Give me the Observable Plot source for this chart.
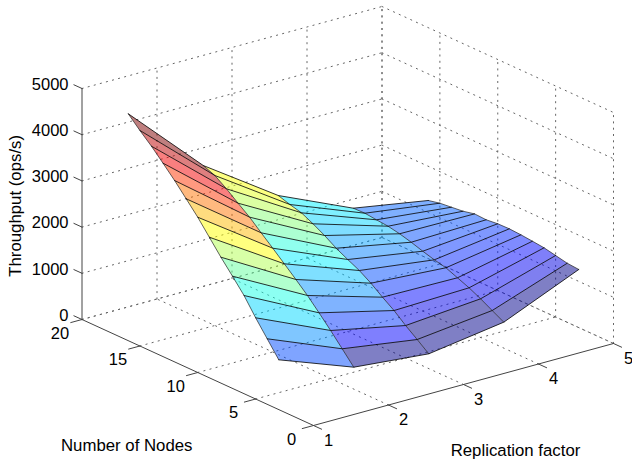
<!DOCTYPE html>
<html>
<head>
<meta charset="utf-8">
<script src="https://cdn.jsdelivr.net/npm/d3@7"></script>
<script src="https://cdn.jsdelivr.net/npm/@observablehq/plot@0.6"></script>
<style>html,body{margin:0;padding:0;background:#fff}svg{display:block}</style>
</head>
<body>
<div id="chart"></div>
<script>
// Data: throughput (ops/s) by number of nodes, for each replication factor
const replication = [1, 2, 3, 4, 5];
const nodes = [3, 4, 5, 6, 7, 8, 9, 10, 11, 12, 13, 14, 15, 16];
const throughputR1 = [1078, 1418, 1758, 2125, 2429, 2725, 3043, 3361, 3645, 3926, 4186, 4439, 4665, 4911];
const throughputR2 = [474, 758, 1039, 1307, 1567, 1799, 2024, 2247, 2465, 2689, 2877, 3074, 3247, 3348];
const throughputR3 = [320, 515, 703, 913, 1087, 1275, 1435, 1558, 1688, 1848, 1987, 2110, 2175, 2255];
const throughputR4 = [561, 699, 838, 961, 1063, 1165, 1223, 1294, 1374, 1442, 1491, 1515, 1543, 1537];
const throughputR5 = [1258, 1279, 1331, 1383, 1411, 1435, 1450, 1444, 1416, 1429, 1372, 1344, 1316, 1260];
const surface = [throughputR1, throughputR2, throughputR3, throughputR4, throughputR5];

const rTicks = [1, 2, 3, 4, 5];
const nTicks = [0, 5, 10, 15, 20];
const zTicks = [0, 1000, 2000, 3000, 4000, 5000];

// Colour stops of the jet-like colormap, as read from the faces
const colorStops = [0, 770, 830, 1050, 2327, 2844, 3361, 3878, 4395, 4911];
const colorValues = ["rgb(0,0,140)", "rgb(0,0,140)", "rgb(0,0,225)", "rgb(0,0,255)", "rgb(0,255,255)", "rgb(128,255,128)",
                     "rgb(255,255,0)", "rgb(255,128,0)", "rgb(255,0,0)", "rgb(128,0,0)"];

// Parallel (orthographic) view of the 3-D box
const view = {ox: 313, oy: 425, rx: 75, ry: -20.5, nx: -11.575, ny: -5.3, zy: -0.0462};
const px = (r, n) => view.ox + (r - 1) * view.rx + n * view.nx;
const py = (r, n, z) => view.oy + (r - 1) * view.ry + n * view.ny + z * view.zy;
const pt = (r, n, z, extra = {}) => ({x: px(r, n), y: py(r, n, z), ...extra});

// Grid lines on the floor and the two back walls
const grid = [];
const seg = (a, b) => { const id = grid.length; grid.push(pt(...a, {id})); grid.push(pt(...b, {id})); };
for (const z of zTicks) { seg([1, 20, z], [5, 20, z]); seg([5, 20, z], [5, 0, z]); }
for (const r of rTicks) { if (r > 1) seg([r, 20, 0], [r, 20, 5000]); if (r > 1) seg([r, 0, 0], [r, 20, 0]); }
for (const n of nTicks) { seg([5, n, 0], [5, n, 5000]); if (n > 0) seg([1, n, 0], [5, n, 0]); }

// Surface faces
const cells = [];
for (let i = 0; i < replication.length - 1; i++) {
  for (let j = nodes.length - 2; j >= 0; j--) {
    const id = `${i}-${j}`, value = surface[i][j + 1];
    cells.push(
      pt(replication[i], nodes[j], surface[i][j], {id, value}),
      pt(replication[i + 1], nodes[j], surface[i + 1][j], {id, value}),
      pt(replication[i + 1], nodes[j + 1], surface[i + 1][j + 1], {id, value}),
      pt(replication[i], nodes[j + 1], surface[i][j + 1], {id, value})
    );
  }
}
// Mesh lines
const rowLines = nodes.flatMap((n, j) => replication.map((r, i) => pt(r, n, surface[i][j], {id: n})));
const colLines = replication.flatMap((r, i) => nodes.map((n, j) => pt(r, n, surface[i][j], {id: r})));

// Axes
const axes = [pt(1, 20, 0, {id: "n"}), pt(1, 0, 0, {id: "n"}), pt(1, 0, 0, {id: "r"}), pt(5, 0, 0, {id: "r"}),
              pt(1, 20, 0, {id: "z"}), pt(1, 20, 5000, {id: "z"})];
const ticks = [];
const tick = (a, b) => { const id = ticks.length; ticks.push(pt(...a, {id})); ticks.push(pt(...b, {id})); };
for (const z of zTicks) tick([1, 20, z], [1, 20.7, z]);
for (const n of nTicks) tick([1, n, 0], [0.85, n, 0]);
for (const r of rTicks) tick([r, 0, 0], [r, -0.7, 0]);

const family = "'Liberation Sans', Arial, sans-serif";
const font = {fontFamily: family, fontSize: 16.5, fill: "#000"};
const labelFont = {fontFamily: family, fontSize: 16.8, fill: "#000"};
const plot = Plot.plot({
  width: 632, height: 459, margin: 0,
  x: {domain: [0, 632], range: [0, 632], axis: null},
  y: {domain: [0, 459], range: [0, 459], axis: null},
  color: {type: "linear", domain: colorStops, range: colorValues},
  style: {background: "#fff"},
  marks: [
    Plot.line(grid, {x: "x", y: "y", z: "id", stroke: "#666", strokeWidth: 1, strokeDasharray: "1.2 5.1"}),
    Plot.line(cells, {x: "x", y: "y", z: "id", fill: "value", fillOpacity: 0.5, stroke: "none", curve: "linear-closed"}),
    Plot.line(colLines, {x: "x", y: "y", z: "id", stroke: "#222", strokeOpacity: 0.7, strokeWidth: 1}),
    Plot.line(rowLines, {x: "x", y: "y", z: "id", stroke: "#000", strokeOpacity: 0.8, strokeWidth: 1}),
    Plot.line(axes, {x: "x", y: "y", z: "id", stroke: "#444", strokeWidth: 1}),
    Plot.line(ticks, {x: "x", y: "y", z: "id", stroke: "#444", strokeWidth: 1}),
    Plot.text(zTicks, {x: () => px(1, 20), y: z => py(1, 20, z), text: d => String(d), textAnchor: "end", dx: -13.5, dy: -4, ...font}),
    Plot.text(nTicks, {x: n => px(1, n), y: n => py(1, n, 0), text: d => String(d), dx: -22, dy: 14, ...font}),
    Plot.text(rTicks, {x: r => px(r, 0), y: r => py(r, 0, 0), text: d => String(d), dx: 15, dy: 15, ...font}),
    Plot.text(["Number of Nodes"], {x: () => px(1, 10), y: () => py(1, 10, 0), text: d => d, dx: -71, dy: 73, ...labelFont}),
    Plot.text(["Replication factor"], {x: () => px(3, 0), y: () => py(3, 0, 0), text: d => d, dx: 52, dy: 66, ...labelFont}),
    Plot.text(["Throughput (ops/s)"], {x: () => px(1, 20), y: () => py(1, 20, 2460), text: d => d, rotate: -90, dx: -66.5, ...labelFont})
  ]
});
document.getElementById("chart").append(plot);
</script>
</body>
</html>
